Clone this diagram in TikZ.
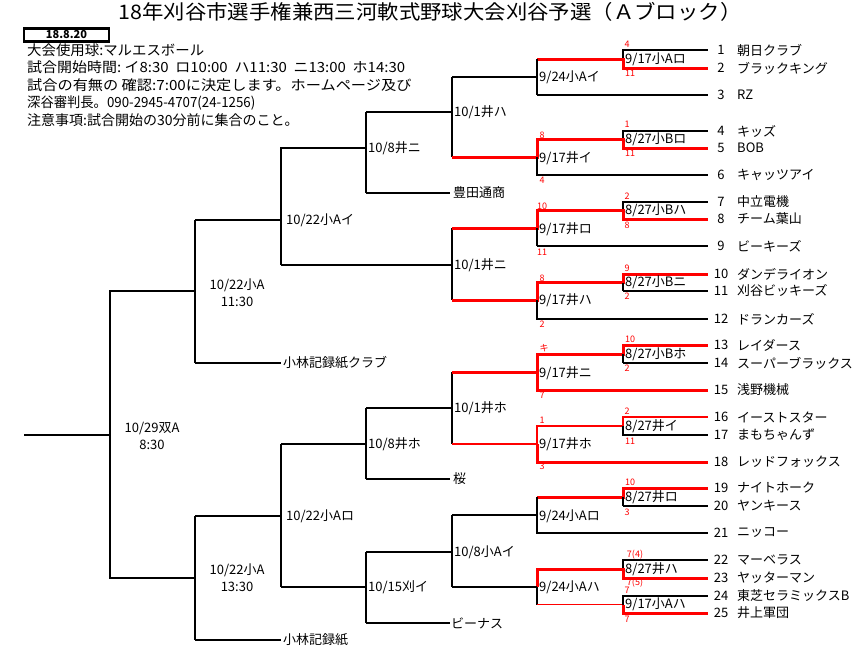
\documentclass[tikz,border=0pt]{standalone}
\usepackage{fontspec}
\newfontfamily\jp{Noto Sans CJK JP}
\begin{document}
\begin{tikzpicture}[x=1pt,y=-1pt,
 thn/.style={line width=1.1pt},
 thk/.style={line width=2.9pt},
 rthk/.style={red, line width=3pt},
 rthn/.style={red, line width=1.5pt},
 lbl/.style={anchor=west, inner sep=0pt, font=\jp\fontsize{13}{13}\selectfont},
 tm/.style={anchor=west, inner sep=0pt, font=\jp\fontsize{13}{13}\selectfont},
 num/.style={inner sep=0pt, font=\jp\fontsize{13}{13}\selectfont},
 sc/.style={red, inner sep=0pt, font=\jp\fontsize{9}{9}\selectfont},
 info/.style={anchor=west, inner sep=0pt, font=\jp\fontsize{14}{14}\selectfont},
 mid/.style={align=center, inner sep=0pt, font=\jp\fontsize{13}{17}\selectfont}]
\useasboundingbox (0,0) rectangle (858,651);

% title and header
\node[inner sep=0pt, font=\jp\fontsize{20}{20}\selectfont] (title) at (430,12) {\scalebox{1.07}[1]{18年刈谷市選手権兼西三河軟式野球大会刈谷予選（Ａブロック）}};
\node[draw, line width=2.5pt, minimum width=85pt, minimum height=13pt, inner sep=0pt, font=\jp\bfseries\fontsize{11}{11}\selectfont] (date) at (66.5,35) {18.8.20};
\node[info] (i1) at (27,50) {\scalebox{1.03}[1]{大会使用球:マルエスボール}};
\node[info] (i2) at (27,67.5) {\scalebox{1.07}[1]{試合開始時間:\ イ8:30\ \ ロ10:00\ \ ハ11:30\ \ ニ13:00\ \ ホ14:30}};
\node[info] (i3) at (27,85) {\scalebox{1.085}[1]{試合の有無の 確認:7:00に決定します。ホームページ及び}};
\node[info] (i4) at (27,103) {\scalebox{0.95}[1]{深谷審判長。090-2945-4707(24-1256)}};
\node[info] (i5) at (27,120.5) {注意事項:試合開始の30分前に集合のこと。};

% ---------- left part (black) ----------
\draw[thk] (24,435) -- (110,435);
\draw[thn] (195,291) -- (110,291) -- (110,578) -- (195,578);
\draw[thk] (195,220) -- (195,363);
\draw[thn] (195,220) -- (281,220);
\draw[thn] (195,363) -- (281,363);
\draw[thk] (195,516) -- (195,640);
\draw[thn] (195,516) -- (281,516);
\draw[thn] (195,640) -- (281,640);
\draw[thn] (366,148) -- (281,148) -- (281,265);
\draw[thk] (281,265) -- (452,265);
\draw[thk] (366,112) -- (366,193);
\draw[thn] (366,112) -- (452,112);
\draw[thn] (366,193) -- (450,193);
\draw[thn] (452,77) -- (452,157);
\draw[thn] (452,228) -- (452,300);
\draw[thn] (281,444) -- (281,587);
\draw[thk] (281,444) -- (366,444);
\draw[thk] (281,587) -- (366,587);
\draw[thk] (366,408) -- (366,479);
\draw[thk] (366,408) -- (452,408);
\draw[thn] (366,479) -- (450,479);
\draw[thn] (452,372) -- (452,444);
\draw[thk] (366,552) -- (366,623);
\draw[thn] (366,552) -- (452,552);
\draw[thk] (366,623) -- (450,623);
\draw[thn] (452,515) -- (452,587);

% ---------- group A ----------
\draw[thn] (623,59) -- (623,50) -- (708,50);
\draw[rthk] (537,59) -- (623,59) -- (623,68) -- (708,68);
\draw[thn] (537,59) -- (537,95);
\draw[thk] (537,95) -- (708,95);
\draw[thk] (452,77) -- (537,77);
% ---------- group B ----------
\draw[thn] (623,139.5) -- (623,131) -- (708,131);
\draw[rthk] (452,157) -- (537,157) -- (537,139.5) -- (623,139.5) -- (623,148) -- (708,148);
\draw[thn] (537,157) -- (537,175) -- (708,175);
% ---------- group C ----------
\draw[thn] (623,210.5) -- (623,202) -- (708,202);
\draw[rthk] (452,228) -- (537,228) -- (537,210.5) -- (623,210.5) -- (623,219) -- (708,219);
\draw[thn] (537,228) -- (537,246);
\draw[thk] (537,246) -- (708,246);
% ---------- group D ----------
\draw[rthk] (452,300) -- (537,300) -- (537,282.5) -- (623,282.5) -- (623,274) -- (708,274);
\draw[thk] (623,282.5) -- (623,291);
\draw[thn] (623,291) -- (708,291);
\draw[thn] (537,300) -- (537,319) -- (708,319);
% ---------- group E ----------
\draw[rthk] (452,372) -- (537,372) -- (537,354) -- (623,354) -- (623,345) -- (708,345);
\draw[rthk] (537,372) -- (537,390) -- (708,390);
\draw[thk] (623,354) -- (623,363);
\draw[thn] (623,363) -- (708,363);
% ---------- group F ----------
\draw[rthn] (452,444) -- (537,444) -- (537,426) -- (623,426) -- (623,417) -- (708,417);
\draw[rthk] (537,444) -- (537,462) -- (708,462);
\draw[thk] (623,426) -- (623,435) -- (708,435);
% ---------- group G ----------
\draw[rthk] (537,497) -- (623,497) -- (623,488) -- (708,488);
\draw[thk] (623,497) -- (623,506);
\draw[thn] (623,506) -- (708,506);
\draw[thn] (452,515) -- (537,515);
\draw[thn] (537,497) -- (537,533) -- (708,533);
% ---------- group H ----------
\draw[thn] (623,569) -- (623,560) -- (708,560);
\draw[rthk] (537,587) -- (537,569) -- (623,569) -- (623,578) -- (708,578);
\draw[thk] (452,587) -- (537,587);
\draw[thn] (537,587) -- (537,604.5);
\draw[rthn] (537,604.5) -- (623,604.5);
\draw[rthk] (623,604.5) -- (623,613) -- (708,613);
\draw[thk] (623,604.5) -- (623,596) -- (708,596);

% ---------- left labels ----------
\node[mid] (f) at (152,435.5) {10/29双A\\8:30};
\node[mid] (s1) at (237,293) {10/22小A\\11:30};
\node[mid] (s2) at (237,578) {10/22小A\\13:30};
\node[lbl] (q1) at (286,220) {10/22小Aイ};
\node[lbl] (k1) at (283,363) {小林記録紙クラブ};
\node[lbl] (q2) at (286,516) {10/22小Aロ};
\node[lbl] (k2) at (283,640) {小林記録紙};
\node[lbl] (r1) at (368,148) {10/8井ニ};
\node[lbl] (toyo) at (453,193) {豊田通商};
\node[lbl] (r2) at (368,444) {10/8井ホ};
\node[lbl] (sak) at (453,479) {桜};
\node[lbl] (r3) at (368,587) {10/15刈イ};
\node[lbl] (ven) at (451,623) {ビーナス};
\node[lbl] (p1) at (454,112) {10/1井ハ};
\node[lbl] (p2) at (454,265) {10/1井ニ};
\node[lbl] (p3) at (454,408) {10/1井ホ};
\node[lbl] (p4) at (454,552) {10/8小Aイ};
\node[lbl] (m1) at (539,77) {9/24小Aイ};
\node[lbl] (m2) at (539,158) {9/17井イ};
\node[lbl] (m3) at (539,229) {9/17井ロ};
\node[lbl] (m4) at (539,300) {9/17井ハ};
\node[lbl] (m5) at (539,373) {9/17井ニ};
\node[lbl] (m6) at (539,444) {9/17井ホ};
\node[lbl] (m7) at (539,516) {9/24小Aロ};
\node[lbl] (m8) at (539,587) {9/24小Aハ};
\node[lbl] (b1) at (625,59) {9/17小Aロ};
\node[lbl] (b2) at (625,139.5) {8/27小Bロ};
\node[lbl] (b3) at (625,210.5) {8/27小Bハ};
\node[lbl] (b4) at (625,282.5) {8/27小Bニ};
\node[lbl] (b5) at (625,354) {8/27小Bホ};
\node[lbl] (b6) at (625,426) {8/27井イ};
\node[lbl] (b7) at (625,497) {8/27井ロ};
\node[lbl] (b8) at (625,569) {8/27井ハ};
\node[lbl] (b9) at (625,604.5) {9/17小Aハ};

% ---------- red scores ----------
\node[sc] (s01) at (627,44) {4};
\node[sc] (s02) at (630,73) {11};
\node[sc] (s03) at (542,135) {8};
\node[sc] (s04) at (542,180) {4};
\node[sc] (s05) at (627,124) {1};
\node[sc] (s06) at (630,153) {11};
\node[sc] (s07) at (542,206) {10};
\node[sc] (s08) at (542,252) {11};
\node[sc] (s09) at (627,196) {2};
\node[sc] (s10) at (627,225) {8};
\node[sc] (s11) at (542,278) {8};
\node[sc] (s12) at (542,324) {2};
\node[sc] (s13) at (627,268) {9};
\node[sc] (s14) at (627,296) {2};
\node[sc] (s15) at (544,348) {キ};
\node[sc] (s16) at (542,395) {7};
\node[sc] (s17) at (630,339) {10};
\node[sc] (s18) at (627,368) {2};
\node[sc] (s19) at (542,420) {1};
\node[sc] (s20) at (542,466) {3};
\node[sc] (s21) at (627,411) {2};
\node[sc] (s22) at (630,441) {11};
\node[sc] (s23) at (630,482) {10};
\node[sc] (s24) at (627,512) {3};
\node[sc] (s25) at (635,555) {7(4)};
\node[sc] (s26) at (635,583) {7(5)};
\node[sc] (s27) at (627,590) {7};
\node[sc] (s28) at (627,619) {7};

% ---------- teams ----------
\foreach \n/\y/\nm in {1/50/朝日クラブ, 2/68/ブラックキング, 3/95/RZ, 4/131/キッズ, 5/148/BOB, 6/175/キャッツアイ, 7/202/中立電機, 8/219/チーム葉山, 9/246/ビーキーズ, 10/274/ダンデライオン, 11/291/刈谷ビッキーズ, 12/319/ドランカーズ, 13/345/レイダース, 14/363/スーパーブラックス, 15/390/浅野機械, 16/417/イーストスター, 17/435/まもちゃんず, 18/462/レッドフォックス, 19/488/ナイトホーク, 20/506/ヤンキース, 21/533/ニッコー, 22/560/マーベラス, 23/578/ヤッターマン, 24/596/東芝セラミックスB, 25/613/井上軍団}
{
 \node[num] (n\n) at (721,\y) {\n};
 \node[tm] (t\n) at (737,\y) {\nm};
}
\end{tikzpicture}
\end{document}
